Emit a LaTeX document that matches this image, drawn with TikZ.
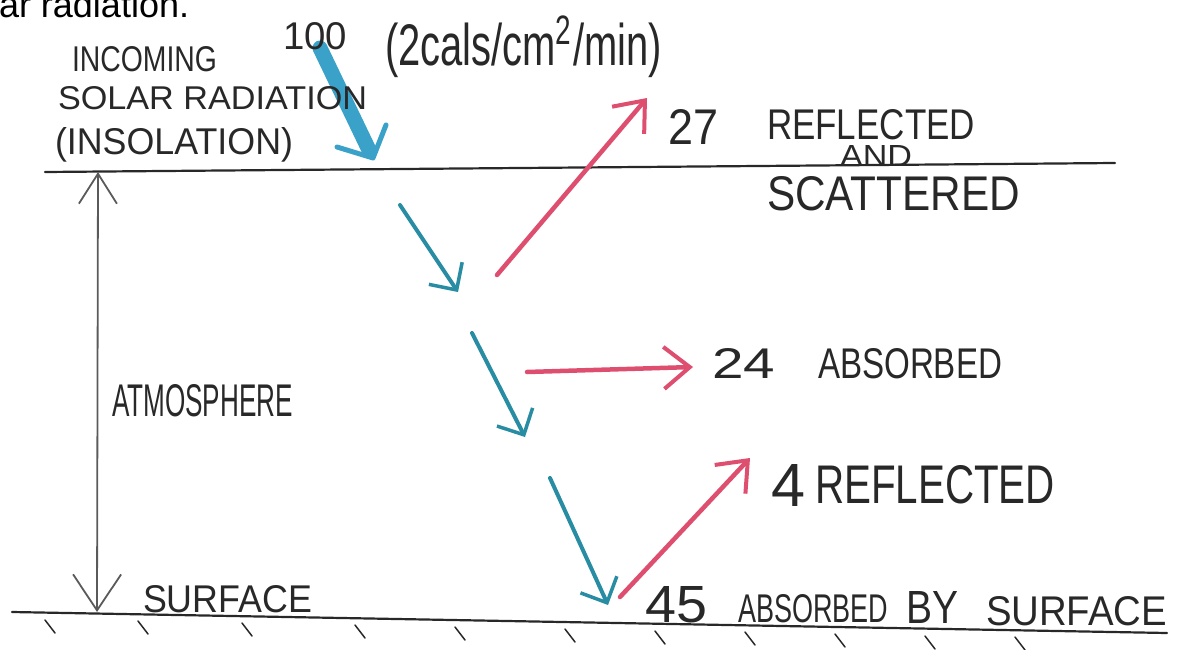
\documentclass[tikz,border=0pt]{standalone}
\usepackage{fontspec}
\setmainfont{Liberation Sans}
\usetikzlibrary{arrows.meta}
\definecolor{ink}{RGB}{40,40,40}
\definecolor{pencilgray}{RGB}{90,90,90}
\definecolor{solarblue}{RGB}{40,140,162}
\definecolor{bigblue}{RGB}{58,162,200}
\definecolor{redarrow}{RGB}{222,78,110}
\newcommand{\hw}[3]{\resizebox{#1pt}{#2pt}{#3}}
\begin{document}
\begin{tikzpicture}[x=1pt,y=-1pt,
  txt/.style={inner sep=0pt, outer sep=0pt, anchor=base west, text=ink},
  frame/.style={ink, line width=2.2pt, line cap=round},
  tickmark/.style={ink, line width=1.5pt, line cap=round},
  bluearr/.style={solarblue, line width=4pt, line cap=round,
    -{Straight Barb[length=20pt,width=40pt,line width=3.5pt]}},
  redarr/.style={redarrow, line width=4.5pt, line cap=round,
    -{Straight Barb[length=26pt,width=42pt,line width=4pt]}},
  bigshaft/.style={bigblue, line width=15pt, line cap=round},
  bighead/.style={bigblue, line width=5pt, line cap=round, line join=round},
  dblarr/.style={pencilgray, line width=1.8pt,
    {Straight Barb[length=30pt,width=38pt,line width=1.8pt]}-{Straight Barb[length=36pt,width=48pt,line width=1.8pt]}}
]
\useasboundingbox (0,0) rectangle (1189,650);
\clip (0,0) rectangle (1189,650);

% caption fragment cut at the top
\node[txt, font=\fontsize{36pt}{40pt}\selectfont, text=black] (cap) at (-1,18) {ar radiation.};

% atmosphere boundary lines
\coordinate (topL) at (45,172);
\coordinate (topR) at (1115,163);
\coordinate (botL) at (12,612);
\coordinate (botR) at (1167,633);
\draw[frame] (topL) -- (topR);
\draw[frame] (botL) -- (botR);

% ground ticks
\foreach \x/\y in {50/620,143/621,247/623,360/625,460/627,570/629,660/631,750/632,840/634,930/636,1020/637}
  \draw[tickmark] (\x-5,\y) -- (\x+5,\y+13);

% atmosphere double arrow
\coordinate (atop) at (98,172);
\coordinate (abot) at (97,612);
\draw[dblarr] (atop) -- (abot);

% incoming big arrow
\coordinate (big1) at (320,48);
\coordinate (big2) at (369,150);
\coordinate (bigtip) at (373,158);
\coordinate (biga) at (337,147);
\coordinate (bigb) at (386,125);
\draw[bigshaft] (big1) -- (big2);
\draw[bighead] (biga) -- (bigtip) -- (bigb);

% blue downward arrows
\coordinate (b1s) at (400,205);
\coordinate (b1e) at (458,292);
\coordinate (b2s) at (472,333);
\coordinate (b2e) at (525,437);
\coordinate (b3s) at (550,478);
\coordinate (b3e) at (608,605);
\draw[bluearr] (b1s) -- (b1e);
\draw[bluearr] (b2s) -- (b2e);
\draw[bluearr] (b3s) -- (b3e);

% red arrows
\coordinate (r1s) at (497,275);
\coordinate (r1e) at (647,98);
\coordinate (r2s) at (527,372);
\coordinate (r2e) at (693,367);
\coordinate (r3s) at (620,597);
\coordinate (r3e) at (750,458);
\draw[redarr] (r1s) -- (r1e);
\draw[redarr] (r2s) -- (r2e);
\draw[redarr] (r3s) -- (r3e);

% labels
\node[txt] (n100) at (283,50) {\hw{64}{27}{100}};
\node[txt] (units) at (385,66) {\hw{277}{50}{(2cals/cm\textsuperscript{2}/min)}};
\node[txt] (inc1) at (72,72) {\hw{145}{25}{INCOMING}};
\node[txt] (inc2) at (58,110) {\hw{309}{23}{SOLAR RADIATION}};
\node[txt] (inc3) at (55,155) {\hw{238}{27}{(INSOLATION)}};

\node[txt] (n27) at (668,144) {\hw{50}{35}{27}};
\node[txt] (refl1) at (767,140) {\hw{208}{30}{REFLECTED}};
\node[txt] (and) at (840,167) {\hw{72}{21}{AND}};
\node[txt] (scat) at (767,210) {\hw{253}{34}{SCATTERED}};

\node[txt] (n24) at (712,378) {\hw{63}{30}{24}};
\node[txt] (abs1) at (818,378) {\hw{184}{30}{ABSORBED}};

\node[txt] (atm) at (112,416) {\hw{181}{32}{ATMOSPHERE}};
\node[txt] (surf1) at (143,612) {\hw{169}{27}{SURFACE}};

\node[txt] (n4) at (771,506) {\hw{34}{42}{4}};
\node[txt] (refl2) at (815,503) {\hw{240}{38}{REFLECTED}};

\node[txt] (n45) at (645,622) {\hw{62}{36}{45}};
\node[txt] (abs2) at (738,622) {\hw{150}{28}{ABSORBED}};
\node[txt] (by) at (906,623) {\hw{52}{32}{BY}};
\node[txt] (surf2) at (986,625) {\hw{181}{29}{SURFACE}};
\end{tikzpicture}
\end{document}
